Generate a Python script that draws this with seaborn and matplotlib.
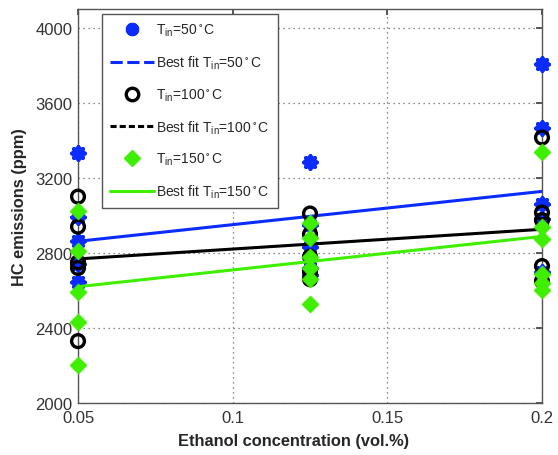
import numpy as np
import pandas as pd
import matplotlib
matplotlib.use("Agg")
import matplotlib.pyplot as plt
from matplotlib.lines import Line2D
import seaborn as sns

# ethanol concentration levels (vol.%)
conc = [0.05, 0.125, 0.2]

# HC emissions (ppm), one list per concentration
hc_50 = [[3335, 2990, 2865, 2740, 2645],
         [3285, 2950, 2830, 2720, 2680],
         [3805, 3465, 3060, 2980, 2700]]
hc_100 = [[3100, 2940, 2750, 2720, 2330],
          [3010, 2900, 2780, 2700, 2660],
          [3415, 3015, 2975, 2730, 2650]]
hc_150 = [[3025, 2810, 2590, 2430, 2200],
          [2960, 2880, 2780, 2720, 2660, 2530],
          [3340, 2940, 2875, 2690, 2640, 2600]]

# best fit lines, values at x = 0.05 and x = 0.2
fit_x = [0.05, 0.2]
fit_50 = [2862, 3128]
fit_100 = [2768, 2926]
fit_150 = [2620, 2888]

blue = "#0a2cff"
green = "#3ef000"
black = "#000000"


def to_frame(vals):
    rows = []
    for x, ys in zip(conc, vals):
        for y in ys:
            rows.append((x, y))
    return pd.DataFrame(rows, columns=["conc", "hc"])


sns.set_theme(style="white")
plt.rcParams["font.family"] = ["Liberation Sans", "DejaVu Sans"]
plt.rcParams["mathtext.default"] = "regular"

fig = plt.figure(figsize=(5.58, 4.56), dpi=100)
ax = fig.add_axes([0.1398, 0.114, 0.8315, 0.864])

star = (8, 2, 0)
groups = [
    (hc_50, fit_50, dict(marker=star, s=80, color=blue, edgecolor=blue, linewidth=3.0), blue),
    (hc_100, fit_100, dict(marker="o", s=85, facecolor="none", edgecolor=black, linewidth=2.4), black),
    (hc_150, fit_150, dict(marker="D", s=75, color=green, edgecolor=green, linewidth=0.5), green),
]
for vals, fit, mk, col in groups:
    df = to_frame(vals)
    sns.scatterplot(data=df, x="conc", y="hc", ax=ax, clip_on=False, zorder=3, **mk)
    fdf = pd.DataFrame({"conc": fit_x, "hc": fit})
    sns.lineplot(data=fdf, x="conc", y="hc", ax=ax, color=col, lw=2.2, zorder=3)

ax.set_xlim(0.05, 0.2)
ax.set_ylim(2000, 4100)
ax.set_xticks([0.05, 0.1, 0.15, 0.2])
ax.set_xticklabels(["0.05", "0.1", "0.15", "0.2"])
ax.set_yticks(np.arange(2000, 4001, 400))
ax.grid(True, linestyle=(0, (1, 3)), color="#666666", linewidth=0.9)
ax.tick_params(direction="in", length=4, top=True, right=True, labelsize=12,
               colors="#444444", labelcolor="#333333")
ax.tick_params(axis="x", pad=5)
ax.tick_params(axis="y", pad=4)
for sp in ax.spines.values():
    sp.set_color("#555555")
    sp.set_linewidth(1.0)

ax.set_xlabel("Ethanol concentration (vol.%)", fontsize=11.8, fontweight="bold", labelpad=6)
ax.set_ylabel("HC emissions (ppm)", fontsize=11.8, fontweight="bold", labelpad=6)
ax.xaxis.set_label_coords(0.465, -0.075)

handles = [
    Line2D([], [], ls="none", marker=star, ms=9.5, color=blue, mew=3.0),
    Line2D([], [], color=blue, lw=2.2, ls=(0, (4, 1.5))),
    Line2D([], [], ls="none", marker="o", ms=9, mfc="none", mec=black, mew=2.4),
    Line2D([], [], color=black, lw=2.2, ls=(0, (2, 1))),
    Line2D([], [], ls="none", marker="D", ms=8.5, color=green),
    Line2D([], [], color=green, lw=2.2),
]
labels = ["T$_{in}$=50$^\\circ$C", "Best fit T$_{in}$=50$^\\circ$C",
          "T$_{in}$=100$^\\circ$C", "Best fit T$_{in}$=100$^\\circ$C",
          "T$_{in}$=150$^\\circ$C", "Best fit T$_{in}$=150$^\\circ$C"]
leg = ax.legend(handles, labels, loc="upper left", bbox_to_anchor=(0.052, 0.988),
                fontsize=10, handlelength=3.1, labelspacing=1.1, borderpad=0.6,
                handletextpad=0.2, fancybox=False, framealpha=1, borderaxespad=0)
leg.get_frame().set_edgecolor("#555555")
leg.get_frame().set_linewidth(1.0)

fig.savefig("out.png", dpi=100)
